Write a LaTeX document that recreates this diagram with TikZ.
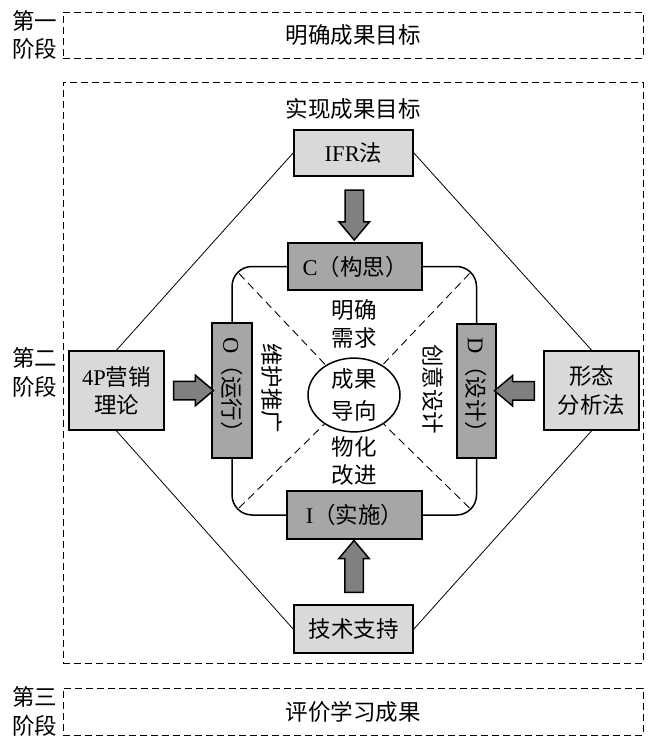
\documentclass[tikz,border=0pt]{standalone}
\usepackage{fontspec}
\setmainfont{Liberation Serif}
\newfontfamily\cjk{Noto Sans CJK SC}
\newcommand{\latn}[1]{{\rmfamily #1}}
\usetikzlibrary{positioning,calc,shapes.geometric,shapes.arrows,backgrounds}
\definecolor{boxlight}{RGB}{217,217,217}
\definecolor{boxdark}{RGB}{166,166,166}
\definecolor{arrowgray}{RGB}{128,128,128}
\tikzset{
  stagebox/.style={draw, dash pattern=on 7pt off 4pt, line width=0.9pt, inner sep=0pt, minimum width=580pt},
  toolbox/.style={draw, line width=1.8pt, fill=boxlight, align=center, inner sep=0pt},
  phasebox/.style={draw, line width=1.8pt, fill=boxdark, inner sep=0pt},
  fatarrow/.style={single arrow, draw, line width=1.5pt, fill=arrowgray, inner sep=8.5pt,
    minimum width=29pt, single arrow head extend=6pt, single arrow tip angle=80},
  thinline/.style={line width=0.8pt},
  diagline/.style={line width=0.9pt, dash pattern=on 8pt off 5pt}
}

\begin{document}
\begin{tikzpicture}[x=1pt,y=-1pt,
    every node/.style={font=\cjk\fontsize{22.5}{28.5}\selectfont, align=center}]
  \useasboundingbox (0,0) rectangle (648,738);

  % the three stages
  \node[stagebox, minimum height=46pt] (stageone) at (353,35) {明确成果目标};
  \node[stagebox, minimum height=581pt] (stagetwo) at (353,372.5) {};
  \node[stagebox, minimum height=47pt] (stagethree) at (353,711.5) {评价学习成果};
  \node[inner sep=0pt, left=5pt of stageone] (lblone) {第一\\阶段};
  \node[inner sep=0pt, left=5pt of stagetwo] (lbltwo) {第二\\阶段};
  \node[inner sep=0pt, left=5pt of stagethree] (lblthree) {第三\\阶段};
  \node (goal) at (353,109) {实现成果目标};

  % methods around the loop
  \node[toolbox, minimum width=119pt, minimum height=46pt] (ifr) at (353.5,153) {\latn{IFR}法};
  \node[toolbox, minimum width=95pt, minimum height=79pt] (fourp) at (116.5,390.5) {\latn{4P}营销\\理论};
  \node[toolbox, minimum width=95pt, minimum height=79pt] (morph) at (591.5,390.5) {形态\\分析法};
  \node[toolbox, minimum width=119pt, minimum height=48pt] (tech) at (353.5,629) {技术支持};

  % CDIO steps
  \node[phasebox, minimum width=134pt, minimum height=47pt] (conc) at (355,266.5) {\latn{C}（构思）};
  \node[phasebox, minimum width=135pt, minimum height=48pt] (impl) at (354.5,515) {\latn{I}（实施）};
  \node[phasebox, rotate=-90, minimum width=135pt, minimum height=40pt] (oper) at (232,390.5) {\latn{O}（运行）};
  \node[phasebox, rotate=-90, minimum width=134pt, minimum height=39pt] (desg) at (476.5,391) {\latn{D}（设计）};

  \node[draw, ellipse, line width=1.5pt, minimum width=92pt, minimum height=64pt, inner sep=0pt] (hub) at (354,395) {成果\\[3pt]导向};
  \node (need) at (354,324) {明确\\需求};
  \node (make) at (354,461) {物化\\改进};
  \node[rotate=-90] (keep) at (272,388) {维护推广};
  \node[rotate=-90] (idea) at (433,389) {创意设计};

  \begin{scope}[on background layer]
    \draw[line width=1.5pt, rounded corners=20pt] (oper.center |- conc.center) rectangle (desg.center |- impl.center);
  \end{scope}
  \coordinate (tl) at ($(oper.center |- conc.center)+(7,7)$);
  \coordinate (tr) at ($(desg.center |- conc.center)+(-7,7)$);
  \coordinate (bl) at ($(oper.center |- impl.center)+(7,-7)$);
  \coordinate (br) at ($(desg.center |- impl.center)+(-7,-7)$);
  \draw[diagline] (tl) -- (hub);
  \draw[diagline] (tr) -- (hub);
  \draw[diagline] (bl) -- (hub);
  \draw[diagline] (br) -- (hub);

  \draw[thinline] (ifr.west) -- (fourp.north);
  \draw[thinline] (ifr.east) -- (morph.north);
  \draw[thinline] (fourp.south) -- (tech.west);
  \draw[thinline] (morph.south) -- (tech.east);

  % block arrows
  \node[fatarrow, shape border rotate=270, minimum height=50pt] (arrc) at ($(ifr.south)!0.5!(conc.north)$) {};
  \node[fatarrow, shape border rotate=90, minimum height=52pt] (arri) at ($(tech.north)!0.5!(impl.south)$) {};
  \node[fatarrow, minimum height=40pt] (arro) at ($(fourp.east)!0.5!(oper.south)$) {};
  \node[fatarrow, shape border rotate=180, minimum height=40pt] (arrd) at ($(morph.west)!0.5!(desg.north)$) {};
\end{tikzpicture}
\end{document}
